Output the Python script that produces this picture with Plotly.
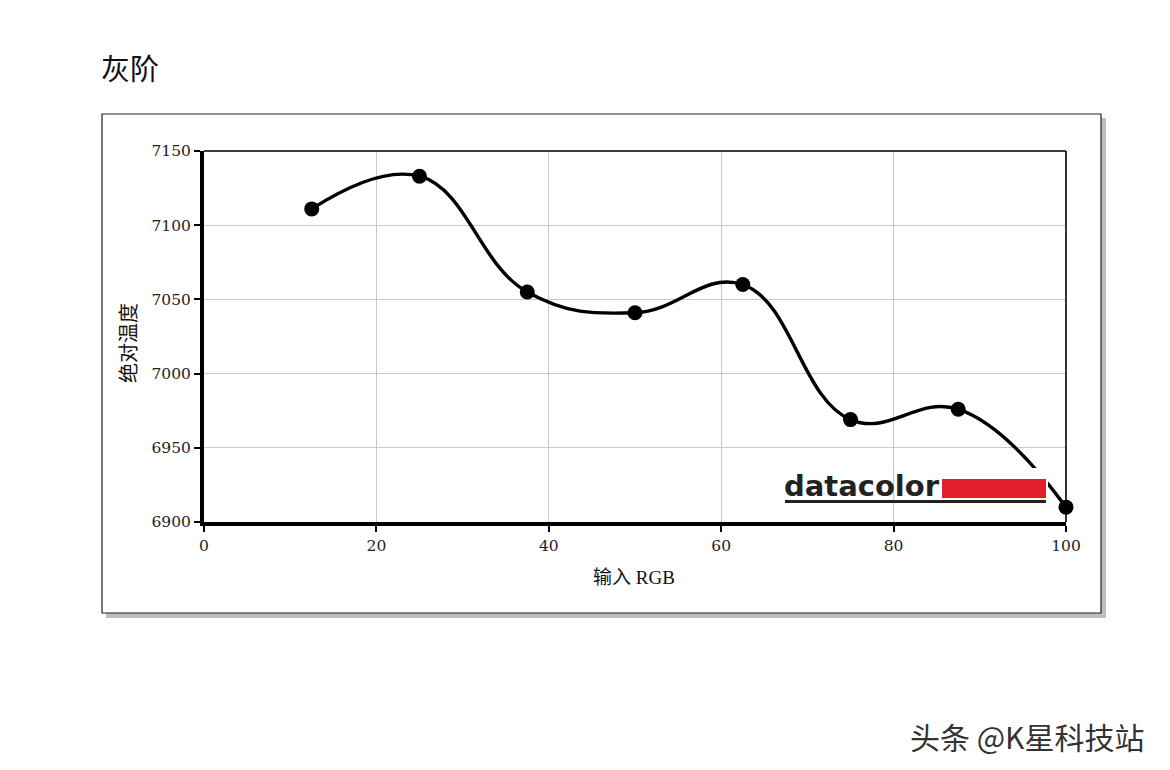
import plotly.graph_objects as go

# Data
x_rgb = [12.5, 25, 37.5, 50, 62.5, 75, 87.5, 100]
cct = [7111, 7133, 7055, 7041, 7060, 6969, 6976, 6910]
x_ticks = [0, 20, 40, 60, 80, 100]
y_ticks = [6900, 6950, 7000, 7050, 7100, 7150]

W, H = 1170, 770
OX, OY = 8, 7  # page offset of the plot div
# plot area in page pixels
PL, PR, PT, PB = 204, 1066, 150, 521
L, R, T, B = PL - OX, PR - OX, PT - OY, PB - OY


def px(xp):
    return (xp - PL) / (PR - PL)


def py(yp):
    return (PB - yp) / (PB - PT)


fig = go.Figure()
fig.add_trace(go.Scatter(
    x=x_rgb, y=cct, mode="lines+markers",
    line=dict(color="black", width=3.4, shape="spline", smoothing=1.2),
    marker=dict(color="black", size=15),
    cliponaxis=False, showlegend=False,
))

tickfont = dict(family="DejaVu Serif, Liberation Serif, serif", size=15.5, color="#222")
fig.update_xaxes(
    range=[0, 100], tickvals=x_ticks, ticktext=[str(v) for v in x_ticks],
    showgrid=True, gridcolor="#c8c8c8", gridwidth=1.2,
    showline=True, linecolor="black", linewidth=4,
    ticks="outside", ticklen=6, tickcolor="black", tickwidth=1.5,
    tickfont=tickfont, zeroline=False,
)
fig.update_yaxes(
    range=[6900, 7150], tickvals=y_ticks, ticktext=[str(v) for v in y_ticks],
    showgrid=True, gridcolor="#c8c8c8", gridwidth=1.2,
    showline=True, linecolor="black", linewidth=4,
    ticks="outside", ticklen=6, tickcolor="black", tickwidth=1.5,
    tickfont=tickfont, zeroline=False,
)

shapes = [
    # shadow
    dict(type="rect", xref="paper", yref="paper", layer="below",
         x0=px(106), x1=px(1106), y0=py(117), y1=py(617),
         fillcolor="#bdbdbd", line=dict(width=0)),
    # outer frame
    dict(type="rect", xref="paper", yref="paper", layer="below",
         x0=px(102), x1=px(1101), y0=py(113), y1=py(612),
         fillcolor="white", line=dict(color="#222", width=1.2)),
    # top and right thin borders
    dict(type="line", xref="paper", yref="paper", x0=0, x1=1, y0=1, y1=1,
         line=dict(color="black", width=1.6)),
    dict(type="line", xref="paper", yref="paper", x0=1, x1=1, y0=0, y1=1,
         line=dict(color="black", width=1.6)),
    # datacolor logo background
    dict(type="rect", xref="paper", yref="paper",
         x0=px(780), x1=px(1048), y0=py(504), y1=py(467),
         fillcolor="white", line=dict(width=0)),
    # gridline at 80 visible through logo
    dict(type="line", xref="x", yref="paper", x0=80, x1=80,
         y0=py(504), y1=py(467), line=dict(color="#c8c8c8", width=1.2)),
    # datacolor logo bar
    dict(type="rect", xref="paper", yref="paper",
         x0=px(942), x1=px(1046), y0=py(497), y1=py(478),
         fillcolor="#e2202c", line=dict(width=0)),
    dict(type="line", xref="paper", yref="paper",
         x0=px(785), x1=px(1046), y0=py(500.5), y1=py(500.5),
         line=dict(color="#222", width=3)),
]

annotations = [
    dict(text="灰阶", xref="paper", yref="paper", x=px(99), y=py(66),
         xanchor="left", yanchor="middle", showarrow=False,
         font=dict(family="Noto Sans CJK SC", size=29, color="#111")),
    dict(text="绝对温度", xref="paper", yref="paper", x=px(127), y=py(342),
         xanchor="center", yanchor="middle", showarrow=False, textangle=-90,
         font=dict(family="Noto Sans CJK SC", size=20, color="#111")),
    dict(text="输入 RGB", xref="paper", yref="paper", x=px(634), y=py(576),
         xanchor="center", yanchor="middle", showarrow=False,
         font=dict(family="Liberation Serif, Noto Sans CJK SC", size=19, color="#111")),
    dict(text="<b>datacolor</b>", xref="paper", yref="paper", x=px(782), y=py(485),
         xanchor="left", yanchor="middle", showarrow=False,
         font=dict(family="DejaVu Sans", size=29, color="#222")),
    dict(text="头条 @K星科技站", xref="paper", yref="paper", x=px(908), y=py(735),
         xanchor="left", yanchor="middle", showarrow=False,
         font=dict(family="Noto Sans CJK SC", size=30, color="#333")),
]

fig.update_layout(
    width=W, height=H,
    margin=dict(l=L, r=W - R, t=T, b=H - B, pad=0),
    paper_bgcolor="white", plot_bgcolor="rgba(0,0,0,0)",
    shapes=shapes, annotations=annotations, showlegend=False,
)

fig.write_html("out.html")
